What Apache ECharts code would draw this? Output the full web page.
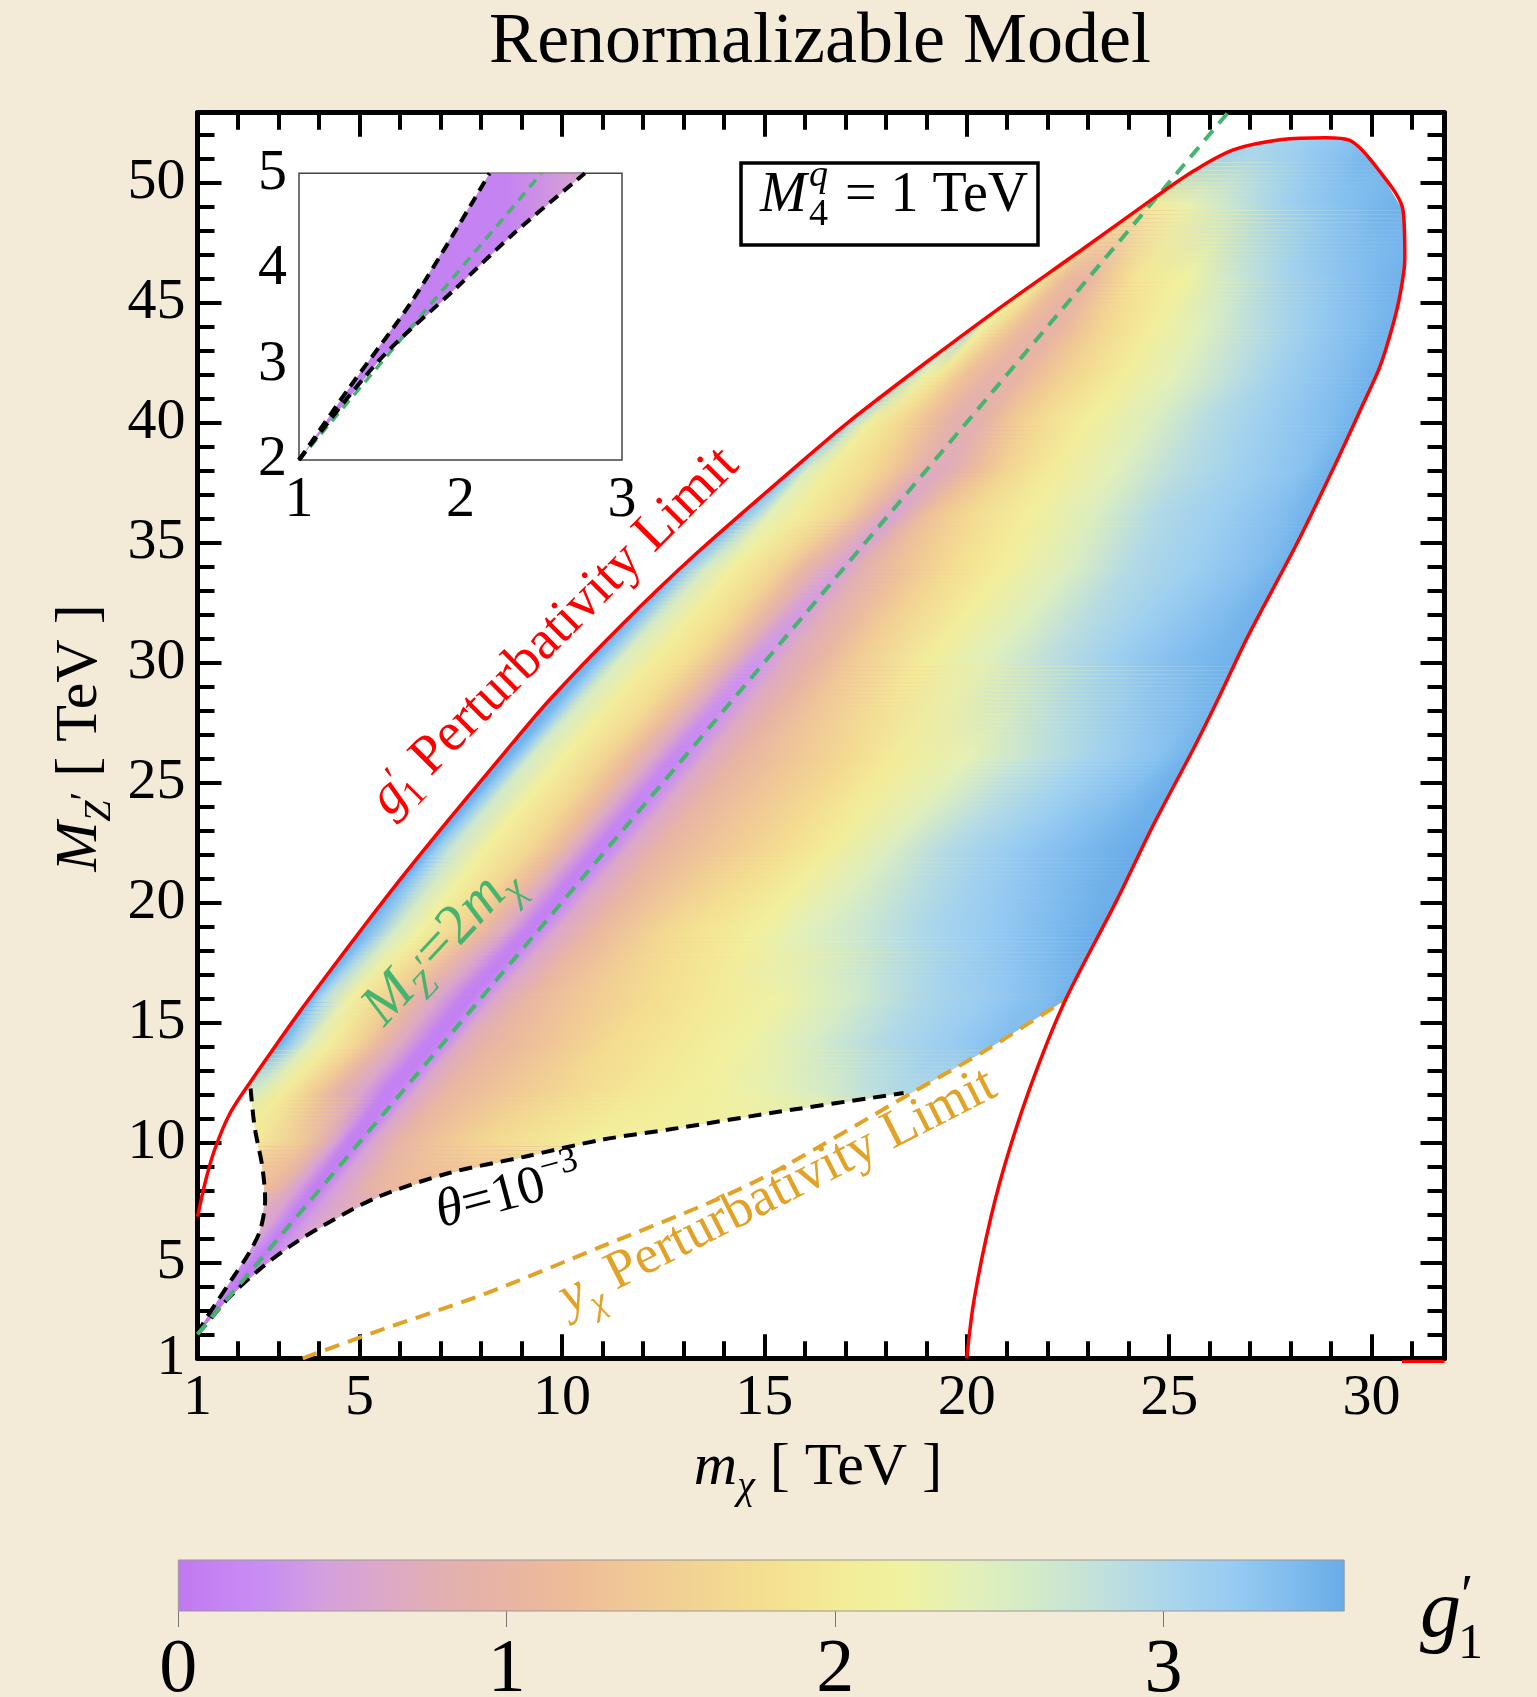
<!DOCTYPE html>
<html><head><meta charset="utf-8">
<script src="https://cdn.jsdelivr.net/npm/echarts@6/dist/echarts.min.js"></script>
<style>html,body{margin:0;padding:0;background:#f3ead8;}#c{width:1537px;height:1697px;}</style>
</head><body><div id="c"></div>
<script>
// ---------------- data ----------------
const xTickLabels = [1,5,10,15,20,25,30];
const xMajorTicks = [5,10,15,20,25,30];
const xMinorTicks = [2,3,4,6,7,8,9,11,12,13,14,16,17,18,19,21,22,23,24,26,27,28,29,31];
const yTickLabels = [1,5,10,15,20,25,30,35,40,45,50];
const yMajorTicks = [5,10,15,20,25,30,35,40,45,50];
const yMinorTicks = [2,3,4,6,7,8,9,11,12,13,14,16,17,18,19,21,22,23,24,26,27,28,29,31,32,33,34,36,37,38,39,41,42,43,44,46,47,48,49,51,52];

// g1' perturbativity limit (red)
const redLimit = [[1.0,6.9],[1.2,8.4],[1.42,9.68],[1.8,11.2],[2.34,12.6],[3.0,14.2],[3.57,15.55],[4.3,17.2],[5.11,19.0],[6.1,21.15],[7.16,23.35],[8.59,26.25],[9.72,28.48],[11.5,31.6],[13.3,34.5],[15.88,38.3],[17.07,40.0],[18.96,42.45],[20.8,44.75],[22.85,47.2],[24.67,49.4],[25.63,50.5],[26.58,51.35],[27.78,51.78],[28.86,51.86],[29.46,51.75],[30.18,50.5],[30.78,48.8],[30.82,46.8],[30.7,45.3],[30.5,43.9],[30.2,42.3],[29.8,40.8],[29.2,38.6],[28.17,35.0],[26.95,31.1],[26.2,28.44],[25.6,26.4],[24.59,23.16],[23.71,20.1],[22.44,15.94],[21.7,12.9],[21.05,9.68],[20.6,6.9],[20.18,3.43],[20.0,1.0]];
const redCorner = [[30.75,0.87],[31.8,0.87]];
// left black dashed boundary
const leftDashed = [[1,2],[1.14,2.46],[1.51,3.43],[1.89,4.4],[2.27,5.38],[2.55,6.35],[2.67,7.6],[2.6,8.99],[2.41,10.65],[2.3,12.45]];
// theta = 1e-3 (black dashed)
const thetaLine = [[1,2],[1.14,2.27],[1.8,3.57],[2.6,4.8],[3.4,5.8],[4.35,6.76],[5.48,7.74],[7.19,8.71],[9.08,9.4],[10.97,10.1],[12.86,10.59],[15.39,11.28],[18.44,12.05]];
// y_chi perturbativity limit (orange dashed)
const yukawaLine = [[3.6,1.0],[5.29,2.04],[8.13,3.71],[10.97,5.65],[13.8,7.6],[15.39,8.9],[18.56,11.98],[20.49,13.85],[22.44,15.94]];
// M_Z' = 2 m_chi (green dashed)
const resonanceLine = [[1,2],[26.45,52.9]];

// colour scale of g1'
const cbarTicks = [0,1,2,3];
const cmapValues = [0,0.13,0.27,0.45,0.62,0.81,1.0,1.19,1.38,1.59,1.8,2.0,2.2,2.39,2.6,2.82,3.0,3.2,3.39,3.55];
const cmapColors = ['#c078f0','#c584f2','#c98ef2','#d5a0dc','#dca8c8','#e2b0b0','#e8b4a4','#eebc98','#f0c896','#f2d492','#f4e090','#f3eb98','#f0f2a0','#e4f0b8','#d4ebc8','#c0e0dc','#acd6ea','#98ccf2','#80bcee','#68ace8'];

// g1' field: rows of constant M_Z', each a list of [m_chi, g1'] read along the row
const fieldRows = [2.5,4,5,6,8,10,12,14,16,18.7,22,26,30,34,36,38,40,42,44,46,49,51];
const fieldStops = [
 [[1.0,0.1],[1.25,0.02],[1.5,0.1]],
 [[1.74,0.15],[1.95,0.03],[2.1,0.1]],
 [[2.12,0.3],[2.4,0.06],[2.55,0.06],[2.76,0.3]],
 [[2.45,0.6],[2.75,0.25],[2.95,0.07],[3.3,0.35],[3.6,0.55]],
 [[2.65,1.15],[3.03,0.9],[3.4,0.5],[3.8,0.08],[4.0,0.1],[4.35,0.45],[5.11,0.9],[5.9,1.15]],
 [[2.42,2.0],[3.57,1.4],[4.09,0.9],[4.4,0.5],[4.65,0.12],[4.85,0.08],[5.05,0.2],[5.31,0.55],[5.93,1.0],[7.16,1.4],[8.18,1.7],[9.72,1.95],[10.7,2.1]],
 [[2.29,2.6],[3.06,2.0],[3.88,1.4],[4.39,0.95],[5.0,0.55],[5.55,0.1],[5.8,0.1],[6.1,0.3],[6.34,0.6],[7.16,1.05],[8.7,1.4],[10.23,1.7],[11.77,1.95],[13.3,2.1],[14.84,2.3],[16.38,2.55],[17.42,2.8],[18.3,2.95]],
 [[3.01,3.5],[3.16,3.3],[3.37,3.0],[3.68,2.5],[4.19,2.1],[4.9,1.6],[5.42,1.1],[5.95,0.65],[6.55,0.12],[6.8,0.08],[7.05,0.25],[7.35,0.6],[7.67,0.8],[8.39,1.05],[9.72,1.35],[11.25,1.75],[12.79,1.95],[14.33,2.2],[15.86,2.5],[16.9,2.75],[17.93,2.95],[18.96,3.1],[19.98,3.25],[20.7,3.35]],
 [[3.83,3.45],[4.0,3.1],[4.19,2.8],[4.8,2.1],[5.72,1.5],[6.34,1.0],[6.95,0.55],[7.5,0.1],[7.75,0.08],[8.05,0.3],[8.35,0.6],[9.2,1.05],[10.74,1.45],[12.28,1.75],[13.81,2.0],[15.35,2.25],[17.07,2.6],[18.96,3.0],[20.49,3.2],[22.03,3.4],[22.5,3.5]],
 [[4.96,3.55],[5.3,3.3],[5.83,2.6],[6.44,2.2],[7.36,1.6],[7.98,1.1],[8.55,0.6],[9.0,0.12],[9.2,0.08],[9.5,0.3],[9.8,0.6],[10.74,1.05],[12.28,1.6],[13.3,1.85],[14.84,2.15],[15.88,2.4],[17.42,2.7],[18.96,3.0],[20.49,3.2],[22.03,3.4],[23.28,3.55]],
 [[6.6,3.5],[6.8,3.2],[7.16,2.7],[7.98,2.1],[9.0,1.7],[9.72,1.2],[10.2,0.65],[10.7,0.12],[10.9,0.12],[11.2,0.3],[11.5,0.6],[12.28,1.0],[13.81,1.4],[15.35,1.75],[16.5,2.05],[17.93,2.5],[19.47,2.95],[21.0,3.2],[22.54,3.4],[24.08,3.55]],
 [[8.64,3.5],[8.9,3.2],[9.2,2.6],[10.02,2.1],[11.05,1.6],[11.66,1.15],[12.2,0.65],[12.7,0.2],[12.9,0.2],[13.2,0.35],[13.55,0.65],[14.33,1.0],[15.86,1.4],[17.07,1.7],[18.1,2.0],[19.98,2.35],[21.5,2.75],[23.05,3.05],[24.6,3.3],[25.5,3.5]],
 [[10.74,3.45],[10.95,3.2],[11.4,2.5],[12.2,2.05],[13.0,1.8],[13.6,1.4],[14.2,0.8],[14.6,0.4],[14.85,0.35],[15.1,0.45],[15.5,0.7],[16.3,1.0],[17.2,1.45],[18.96,2.05],[20.49,2.45],[22.03,2.85],[23.57,3.15],[25.1,3.35],[26.6,3.5]],
 [[12.95,3.45],[13.05,3.3],[13.3,3.0],[13.61,2.6],[14.28,2.1],[15.35,1.6],[15.97,1.1],[16.58,0.7],[16.95,0.5],[17.42,0.85],[18.44,1.3],[19.77,1.8],[21.0,2.1],[22.54,2.5],[24.08,2.95],[25.6,3.15],[27.15,3.35],[27.9,3.5]],
 [[14.32,3.45],[14.44,3.3],[14.74,2.9],[15.05,2.4],[15.77,2.05],[16.8,1.6],[17.5,1.0],[17.9,0.6],[18.2,0.55],[18.5,0.8],[18.96,1.25],[19.98,1.7],[21.5,2.1],[23.05,2.5],[24.6,2.95],[26.1,3.15],[27.66,3.35],[28.5,3.5]],
 [[15.63,3.4],[15.8,3.1],[16.05,2.5],[16.6,2.05],[17.5,1.75],[18.2,1.35],[18.8,0.9],[19.3,0.7],[19.8,0.85],[20.18,1.15],[21.0,1.6],[22.03,2.0],[23.57,2.4],[25.1,2.85],[26.64,3.1],[28.17,3.3],[29.0,3.5]],
 [[17.07,3.3],[17.25,2.8],[17.6,2.1],[18.3,1.7],[19.0,1.25],[19.5,0.9],[19.95,0.8],[20.4,0.95],[20.9,1.3],[21.7,1.7],[23.0,2.1],[24.5,2.5],[25.9,2.9],[27.3,3.15],[28.8,3.35],[29.7,3.5]],
 [[18.44,3.3],[18.65,2.9],[18.96,2.3],[19.37,1.9],[19.98,1.25],[20.6,0.95],[21.0,0.95],[21.4,1.05],[22.03,1.35],[22.85,1.7],[23.87,2.05],[25.1,2.4],[26.43,2.8],[27.66,3.1],[29.2,3.35],[30.1,3.5]],
 [[20.2,3.0],[20.4,2.2],[20.9,1.6],[21.4,1.15],[21.9,0.95],[22.3,1.0],[22.8,1.3],[23.5,1.7],[24.6,2.1],[25.8,2.45],[27.0,2.85],[28.3,3.15],[29.6,3.35],[30.55,3.5]],
 [[21.83,2.0],[22.1,1.5],[22.5,1.1],[23.0,1.0],[23.6,1.5],[24.2,1.9],[25.39,2.2],[26.58,2.7],[27.78,3.05],[29.58,3.35],[30.7,3.5]],
 [[24.34,1.9],[24.6,2.0],[25.39,2.3],[26.58,2.75],[27.78,3.1],[28.98,3.3],[30.6,3.5]],
 [[26.15,3.1],[27.0,3.0],[28.0,3.15],[29.0,3.3],[29.9,3.45]]
];

// inset (zoom on 1<m<3, 2<M<5)
const insetXLabels = [1,2,3];
const insetXTicks = [2];
const insetYLabels = [2,3,4,5];
const insetYTicks = [3,4];
const insetUpper = [[1,2],[1.3,2.73],[1.71,3.69],[2.18,5.0]];
const insetLower = [[1,2],[1.5,3.05],[1.98,3.81],[2.33,4.37],[2.77,5.0]];
const insetResonance = [[1,2],[2.5,5]];

// ---------------- helpers ----------------
const FONT = '"Liberation Serif","Times New Roman",serif';
function hex2rgb(h){return [parseInt(h.slice(1,3),16),parseInt(h.slice(3,5),16),parseInt(h.slice(5,7),16)];}
function cmap(g){
  if (g <= cmapValues[0]) return cmapColors[0];
  for (let i=1;i<cmapValues.length;i++){
    if (g <= cmapValues[i]){
      const t=(g-cmapValues[i-1])/(cmapValues[i]-cmapValues[i-1]);
      const A=hex2rgb(cmapColors[i-1]),B=hex2rgb(cmapColors[i]);
      return 'rgb('+A.map((v,k)=>Math.round(v+(B[k]-v)*t)).join(',')+')';
    }
  }
  return cmapColors[cmapColors.length-1];
}
function clipAxis(poly,v,greater){
  const out=[];const n=poly.length;
  for(let i=0;i<n;i++){
    const P=poly[i],Q=poly[(i+1)%n];
    const pin=greater?P[1]>=v:P[1]<=v, qin=greater?Q[1]>=v:Q[1]<=v;
    if(pin) out.push(P);
    if(pin!==qin){const t=(v-P[1])/(Q[1]-P[1]);out.push([P[0]+t*(Q[0]-P[0]),v]);}
  }
  return out;
}
function clipBand(poly,lo,hi){return clipAxis(clipAxis(poly,lo,true),hi,false);}

function buildRegion(){
  const iStart=redLimit.findIndex(p=>p[0]>2.3);
  let iEnd=redLimit.length-1; while(redLimit[iEnd][1]<15.9) iEnd--;
  const top=redLimit.slice(iStart,iEnd+1);
  const yk=yukawaLine.filter(p=>p[0]>=18.5&&p[0]<22.4).reverse();
  const th=thetaLine.slice().reverse();
  const ld=leftDashed.slice(1);
  return top.concat(yk,th,ld);
}
const region = buildRegion();

function renderField(params, api){
  const P=p=>api.coord(p);
  const children=[];
  children.push({type:'polygon',shape:{points:region.map(P)},style:{fill:cmap(1.8)},silent:true});
  const a=P([1,2]),b=P([2,4]);
  let dx=b[0]-a[0],dy=b[1]-a[1];const L=Math.hypot(dx,dy);dx/=L;dy/=L;
  const nx=-dy,ny=dx;
  function grad(i){
    const M=fieldRows[i],st=fieldStops[i];
    const pts=st.map(s=>P([s[0],M]));
    const p0=pts[0];
    const ss=pts.map(p=>(p[0]-p0[0])*nx+(p[1]-p0[1])*ny);
    const sE=ss[ss.length-1]||1;
    return {type:'linear',x:p0[0],y:p0[1],x2:p0[0]+nx*sE,y2:p0[1]+ny*sE,global:true,
      colorStops:st.map((s,j)=>({offset:Math.min(1,Math.max(0,ss[j]/sE)),color:cmap(s[1])}))};
  }
  const band=(lo,hi)=>clipBand(region,lo,hi).map(P);
  const add=(pts,i,op)=>{if(pts.length>=3)children.push({type:'polygon',shape:{points:pts},style:{fill:grad(i),opacity:op},silent:true});};
  const last=fieldRows.length-1;
  add(band(-10,fieldRows[0]+0.01),0,1);
  for(let i=0;i<last;i++){
    const lo=fieldRows[i],hi=fieldRows[i+1];
    const span=Math.abs(P([1,lo])[1]-P([1,hi])[1]);
    const K=Math.max(2,Math.ceil(span/4));
    for(let k=0;k<K;k++){
      const m0=lo+(hi-lo)*k/K,m1=lo+(hi-lo)*(k+1)/K;
      const t=(k+0.5)/K;
      add(band(m0-0.012,m1+0.012),i,1);
      add(band(m0,m1),i+1,t);
    }
  }
  add(band(fieldRows[last]-0.01,100),last,1);
  return {type:'group',children};
}

const mctx=document.createElement('canvas').getContext('2d');
function fontStr(s,it){return (it?'italic ':'')+s+'px '+FONT;}
function measure(t,s,it){mctx.font=fontStr(s,it);return mctx.measureText(t).width;}
// pieces: {t, s, it, dy, dx}; (cx,cy) = centre of baseline
function textRun(pieces,cx,cy,rot,color){
  let W=0;pieces.forEach(p=>{p.w=measure(p.t,p.s,p.it);W+=p.w+(p.dx||0);});
  let x=-W/2;const ch=[];
  pieces.forEach(p=>{
    x+=(p.dx||0);
    ch.push({type:'text',z:100,x:x,y:(p.dy||0)-0.3375*p.s,silent:true,style:{text:p.t,font:fontStr(p.s,p.it),fill:color,textAlign:'left',textVerticalAlign:'middle',align:'left',verticalAlign:'middle'}});
    x+=p.w;
  });
  return {type:'group',x:cx,y:cy,rotation:rot||0,children:ch,silent:true,z:100};
}
function txt(x,yb,t,s,it,color,align){
  return {type:'text',x:x,y:yb-0.3375*s,silent:true,z:100,style:{text:t,font:fontStr(s,it),fill:color||'#000',textAlign:align||'left',textVerticalAlign:'middle',align:align||'left',verticalAlign:'middle'}};
}

// ---------------- chart ----------------
const chart=echarts.init(document.getElementById('c'),null,{renderer:'canvas',width:1537,height:1697});
const XMIN=1,XMAX=31.8,YMIN=1,YMAX=52.9;
const lbl={fontFamily:FONT,fontSize:58,color:'#000'};
function xAx(pos,ticks,len,labels,line){
  return {type:'value',gridIndex:0,position:pos,min:XMIN,max:XMAX,
    axisLine:{show:line,onZero:false,lineStyle:{color:'#000',width:5}},
    axisTick:{show:true,inside:true,length:len,customValues:ticks,lineStyle:{color:'#000',width:4}},
    axisLabel:labels?Object.assign({show:true,customValues:labels,margin:11},lbl):{show:false},
    splitLine:{show:false}};
}
function yAx(pos,ticks,len,labels,line){
  return {type:'value',gridIndex:0,position:pos,min:YMIN,max:YMAX,
    axisLine:{show:line,onZero:false,lineStyle:{color:'#000',width:5}},
    axisTick:{show:true,inside:true,length:len,customValues:ticks,lineStyle:{color:'#000',width:4}},
    axisLabel:labels?Object.assign({show:true,customValues:labels,margin:12},lbl):{show:false},
    splitLine:{show:false}};
}
function insX(pos,labels){
  return {type:'value',gridIndex:1,position:pos,min:1,max:3,
    axisLine:{show:false,onZero:false},
    axisTick:{show:true,inside:true,length:14,customValues:insetXTicks,lineStyle:{color:'#000',width:3.5}},
    axisLabel:labels?Object.assign({show:true,customValues:insetXLabels,margin:12},lbl):{show:false},
    splitLine:{show:false}};
}
function insY(pos,labels){
  return {type:'value',gridIndex:1,position:pos,min:2,max:5,
    axisLine:{show:false,onZero:false},
    axisTick:{show:true,inside:true,length:15,customValues:insetYTicks,lineStyle:{color:'#000',width:3.5}},
    axisLabel:labels?Object.assign({show:true,customValues:insetYLabels,margin:12},lbl):{show:false},
    splitLine:{show:false}};
}

const dashedBlack={color:'#000',width:4,type:[13,8]};
const lineBase={type:'line',showSymbol:false,symbol:'none',silent:true,animation:false};

const option={
  backgroundColor:'#f3ead8',
  animation:false,
  grid:[
    {left:197.5,top:112.7,width:1247,height:1245.6,show:true,backgroundColor:'#ffffff',borderWidth:0,z:0,outerBoundsMode:'none',containLabel:false},
    {left:299,top:173.3,width:323,height:286.7,show:true,backgroundColor:'#ffffff',borderColor:'#444',borderWidth:1.5,z:3,outerBoundsMode:'none',containLabel:false},
    {left:178.3,top:1560,width:1165.9,height:51,show:false,outerBoundsMode:'none',containLabel:false}
  ],
  xAxis:[
    xAx('bottom',xMajorTicks,24,xTickLabels,true),
    xAx('bottom',xMinorTicks,17,null,false),
    xAx('top',xMajorTicks,24,null,true),
    xAx('top',xMinorTicks,17,null,false),
    insX('bottom',true),
    insX('top',false),
    {type:'value',gridIndex:2,min:0,max:3.55,position:'bottom',
     axisLine:{show:false},
     axisTick:{show:true,inside:false,length:16,customValues:cbarTicks,lineStyle:{color:'#777',width:1}},
     axisLabel:Object.assign({show:true,customValues:cbarTicks,margin:22},lbl,{fontSize:76}),
     splitLine:{show:false}}
  ],
  yAxis:[
    yAx('left',yMajorTicks,24,yTickLabels,true),
    yAx('left',yMinorTicks,17,null,false),
    yAx('right',yMajorTicks,24,null,true),
    yAx('right',yMinorTicks,17,null,false),
    insY('left',true),
    insY('right',false),
    {type:'value',gridIndex:2,min:0,max:1,show:false}
  ],
  series:[
    {type:'custom',xAxisIndex:0,yAxisIndex:0,renderItem:renderField,data:[0],silent:true,z:1,clip:true},
    Object.assign({},lineBase,{xAxisIndex:0,yAxisIndex:0,data:yukawaLine,z:3,smooth:0.3,lineStyle:{color:'#e2a228',width:4,type:[15,9]}}),
    Object.assign({},lineBase,{xAxisIndex:0,yAxisIndex:0,data:thetaLine,z:4,smooth:0.3,lineStyle:dashedBlack}),
    Object.assign({},lineBase,{xAxisIndex:0,yAxisIndex:0,data:leftDashed,z:4,smooth:0.3,lineStyle:dashedBlack}),
    Object.assign({},lineBase,{xAxisIndex:0,yAxisIndex:0,data:resonanceLine,z:5,lineStyle:{color:'#46b46e',width:4,type:[13,9]}}),
    Object.assign({},lineBase,{xAxisIndex:0,yAxisIndex:0,data:redLimit,z:6,smooth:0.3,lineStyle:{color:'#ff0000',width:3.5}}),
    Object.assign({},lineBase,{xAxisIndex:0,yAxisIndex:0,data:redCorner,z:1,clip:false,lineStyle:{color:'#ff0000',width:3}}),
    // inset
    {type:'custom',xAxisIndex:4,yAxisIndex:4,z:10,silent:true,data:[0],
     renderItem:function(params,api){
       const poly=insetUpper.concat(insetLower.slice().reverse()).map(p=>api.coord(p));
       const a=api.coord([1,5]),b=api.coord([2.3,5]),c=api.coord([2.77,5]);
       const span=c[0]-a[0];
       return {type:'polygon',shape:{points:poly},style:{fill:{type:'linear',x:a[0],y:0,x2:c[0],y2:0,global:true,
         colorStops:[{offset:0,color:cmap(0.05)},{offset:(b[0]-a[0])/span,color:cmap(0.12)},{offset:1,color:cmap(0.55)}]}}};
     }},
    Object.assign({},lineBase,{xAxisIndex:4,yAxisIndex:4,data:insetResonance,z:11,lineStyle:{color:'#46b46e',width:3.5,type:[10,7]}}),
    Object.assign({},lineBase,{xAxisIndex:4,yAxisIndex:4,data:insetUpper,z:12,smooth:0.3,lineStyle:{color:'#000',width:4,type:[11,7]}}),
    Object.assign({},lineBase,{xAxisIndex:4,yAxisIndex:4,data:insetLower,z:12,smooth:0.3,lineStyle:{color:'#000',width:4,type:[11,7]}}),
    // colour bar
    {type:'custom',xAxisIndex:6,yAxisIndex:6,z:5,silent:true,data:[0],
     renderItem:function(params,api){
       const p0=api.coord([0,1]),p1=api.coord([3.55,0]);
       return {type:'rect',shape:{x:p0[0],y:p0[1],width:p1[0]-p0[0],height:p1[1]-p0[1]},
         style:{stroke:'#999',lineWidth:1,fill:{type:'linear',x:p0[0],y:0,x2:p1[0],y2:0,global:true,
           colorStops:cmapValues.map((v,i)=>({offset:v/3.55,color:cmapColors[i]}))}}};
     }}
  ],
  graphic:[
    textRun([{t:'Renormalizable Model',s:72}],820,67,0,'#000'),
    textRun([{t:'m',s:60,it:true},{t:'χ',s:40,it:true,dy:13},{t:' [ TeV ]',s:60}],818,1488,0,'#000'),
    textRun([{t:'M',s:60,it:true},{t:'Z',s:38,it:true,dy:13},{t:'′',s:40,dy:0},{t:' [ TeV ]',s:60}],100,738,Math.PI/2,'#000'),
    {type:'rect',shape:{x:741,y:163,width:297,height:82},style:{fill:'#ffffff',stroke:'#000',lineWidth:3.5},z:90,silent:true},
    txt(760,215,'M',56,true),
    txt(809,189,'q',38,true),
    txt(809,228,'4',38,false),
    txt(845,215,'= 1 TeV',56,false),
    textRun([{t:'g',s:55,it:true},{t:'′',s:38,dy:-14},{t:'1',s:36,dy:10,dx:-10},{t:' Perturbativity Limit',s:55}],568,645,Math.PI/4,'#ff0000'),
    textRun([{t:'M',s:58,it:true},{t:'Z',s:37,it:true,dy:11},{t:'′',s:38,dy:-2},{t:'=2',s:58},{t:'m',s:58,it:true},{t:'χ',s:39,it:true,dy:11}],455,958,47*Math.PI/180,'#46b46e'),
    textRun([{t:'θ',s:54,it:true},{t:'=10',s:54},{t:'−3',s:36,dy:-22}],514,1212,15*Math.PI/180,'#000'),
    textRun([{t:'y',s:54,it:true},{t:'χ',s:35,it:true,dy:12},{t:' Perturbativity Limit',s:54}],786,1208,27*Math.PI/180,'#e2a228'),
    txt(1420,1642,'g',82,true),
    txt(1461,1618,'′',56,false),
    txt(1458,1662,'1',50,false)
  ]
};
chart.setOption(option);
</script></body></html>
